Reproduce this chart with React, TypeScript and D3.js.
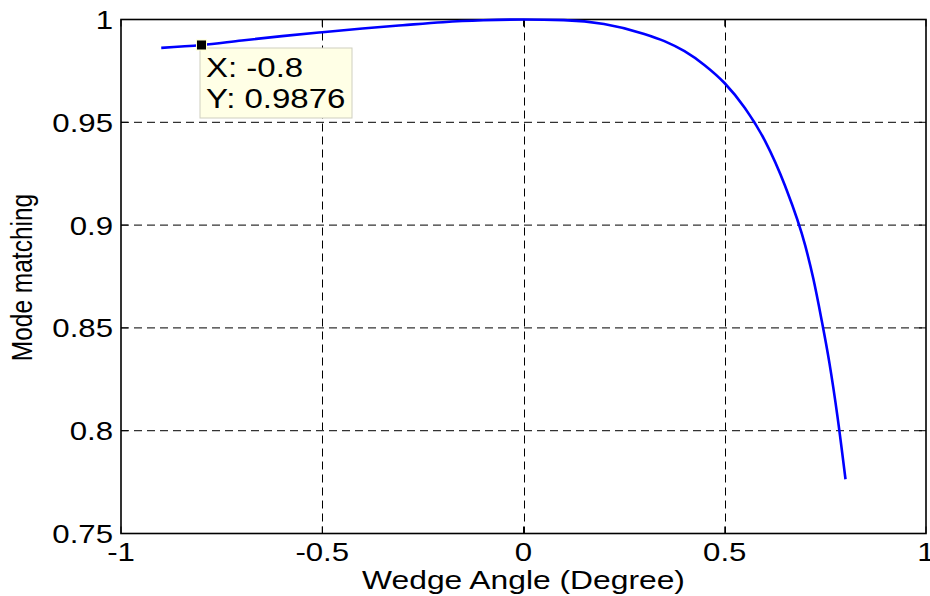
import React from "react";
import * as d3 from "d3";

const angleValues = [-0.9, -0.8, -0.7, -0.6, -0.5, -0.4, -0.3, -0.2, -0.1, 0, 0.1, 0.2, 0.3, 0.35, 0.4, 0.45, 0.5, 0.55, 0.6, 0.65, 0.7, 0.72, 0.74, 0.76, 0.78, 0.8];
const matchValues = [0.9862, 0.9876, 0.9898, 0.9919, 0.9938, 0.9956, 0.9972, 0.9987, 0.9996, 1.0, 0.9997, 0.9978, 0.993, 0.9895, 0.9846, 0.9778, 0.969, 0.957, 0.941, 0.919, 0.89, 0.874, 0.8545, 0.833, 0.807, 0.7764];
const xTicks = [-1, -0.5, 0, 0.5, 1];
const xTickLabels = ["-1", "-0.5", "0", "0.5", "1"];
const yTicks = [0.75, 0.8, 0.85, 0.9, 0.95, 1];
const yTickLabels = ["0.75", "0.8", "0.85", "0.9", "0.95", "1"];
const tipX = -0.8;
const tipY = 0.9876;
const tipLines = ["X: -0.8", "Y: 0.9876"];
const xLabel = "Wedge Angle (Degree)";
const yLabel = "Mode matching";

const W = 930;
const H = 596;
const L = 121, R = 926, T = 19.5, B = 533.5;
const FONT = "'Liberation Sans', Arial, Helvetica, sans-serif";
const SX = 1.2;

export default function App() {
  const x = d3.scaleLinear().domain([-1, 1]).range([L, R]);
  const y = d3.scaleLinear().domain([0.75, 1]).range([B, T]);
  const pts: [number, number][] = angleValues.map((a, i) => [a, matchValues[i]]);
  const line = d3.line<[number, number]>().x(d => x(d[0])).y(d => y(d[1])).curve(d3.curveMonotoneX);
  const tx = x(tipX), ty = y(tipY);
  const tick = 7;
  return (
    <svg width={W} height={H} style={{ position: "absolute", left: 0, top: 0, background: "#fff" }} fontFamily={FONT}>
      <rect x={0} y={0} width={W} height={H} fill="#fff" />
      {/* grid */}
      {xTicks.slice(1, -1).map(v => (
        <line key={"gx" + v} x1={Math.round(x(v)) + 0.5} x2={Math.round(x(v)) + 0.5} y1={T} y2={B} stroke="#000" strokeWidth={1} strokeDasharray="8,5" />
      ))}
      {yTicks.slice(1, -1).map(v => (
        <line key={"gy" + v} x1={L} x2={R} y1={y(v)} y2={y(v)} stroke="#333" strokeWidth={1.2} strokeDasharray="8,5" />
      ))}
      {/* ticks */}
      {xTicks.map(v => (
        <g key={"tx" + v}>
          <line x1={x(v)} x2={x(v)} y1={B} y2={B - tick} stroke="#000" strokeWidth={1} />
          <line x1={x(v)} x2={x(v)} y1={T} y2={T + tick} stroke="#000" strokeWidth={1} />
        </g>
      ))}
      {yTicks.map(v => (
        <g key={"ty" + v}>
          <line x1={L} x2={L + tick} y1={y(v)} y2={y(v)} stroke="#000" strokeWidth={1} />
          <line x1={R} x2={R - tick} y1={y(v)} y2={y(v)} stroke="#000" strokeWidth={1} />
        </g>
      ))}
      <rect x={L} y={T} width={R - L} height={B - T} fill="none" stroke="#000" strokeWidth={1.6} />
      {/* curve */}
      <path d={line(pts) || ""} fill="none" stroke="#0000ff" strokeWidth={2.6} />
      {/* tick labels */}
      {xTicks.map((v, i) => (
        <text key={"xl" + v} transform={`translate(${x(v)},561) scale(${SX},1)`} textAnchor="middle" fontSize={26} fill="#000">{xTickLabels[i]}</text>
      ))}
      {yTicks.map((v, i) => (
        <text key={"yl" + v} transform={`translate(113,${y(v) + 9.5}) scale(${SX},1)`} textAnchor="end" fontSize={26} fill="#000">{yTickLabels[i]}</text>
      ))}
      {/* axis labels */}
      <text transform={`translate(${(L + R) / 2},589) scale(${SX},1)`} textAnchor="middle" fontSize={26.5} fill="#000">{xLabel}</text>
      <text transform={`translate(32,277.5) rotate(-90) scale(1,${SX})`} textAnchor="middle" fontSize={24.5} fill="#000">{yLabel}</text>
      {/* data tip */}
      <rect x={200} y={48} width={152} height={70} fill="#ffffe6" stroke="#cfcfc0" strokeWidth={1} />
      <rect x={tx - 5} y={ty - 5} width={10} height={10} fill="#000" stroke="#ffffd0" strokeWidth={1} />
      {tipLines.map((t, i) => (
        <text key={"tip" + i} transform={`translate(206,${77 + i * 31}) scale(${SX},1)`} fontSize={27.5} fill="#000">{t}</text>
      ))}
    </svg>
  );
}
